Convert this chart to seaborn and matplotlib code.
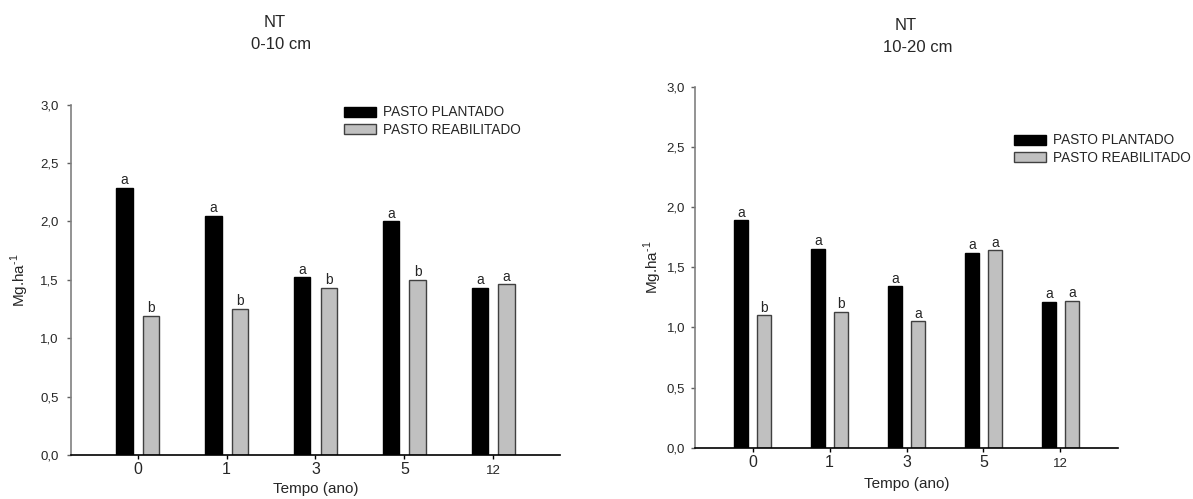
import matplotlib
matplotlib.use("Agg")
import matplotlib.pyplot as plt
import seaborn as sns
import pandas as pd

# Tempo desde a implantação (anos)
tempos = ["0", "1", "3", "5", "12"]
series = ["PASTO PLANTADO", "PASTO REABILITADO"]

# NT, camada 0-10 cm (Mg.ha-1)
plantado_0_10 = [2.29, 2.05, 1.52, 2.00, 1.43]
reabilitado_0_10 = [1.19, 1.25, 1.43, 1.50, 1.46]
letras_plantado_0_10 = ["a", "a", "a", "a", "a"]
letras_reabilitado_0_10 = ["b", "b", "b", "b", "a"]

# NT, camada 10-20 cm (Mg.ha-1)
plantado_10_20 = [1.89, 1.65, 1.34, 1.62, 1.21]
reabilitado_10_20 = [1.10, 1.13, 1.05, 1.64, 1.22]
letras_plantado_10_20 = ["a", "a", "a", "a", "a"]
letras_reabilitado_10_20 = ["b", "b", "a", "a", "a"]

yticks = [0.0, 0.5, 1.0, 1.5, 2.0, 2.5, 3.0]
ytick_labels = ["0,0", "0,5", "1,0", "1,5", "2,0", "2,5", "3,0"]

sns.set_style("white")
plt.rcParams["font.family"] = ["Liberation Sans", "DejaVu Sans"]
plt.rcParams["mathtext.fontset"] = "custom"
plt.rcParams["mathtext.rm"] = "Liberation Sans"

palette = {series[0]: "#000000", series[1]: "#c0c0c0"}
edges = ["#000000", "#404040"]


def long_table(plantado, reabilitado):
    return pd.DataFrame({
        "tempo": tempos * 2,
        "valor": plantado + reabilitado,
        "pasto": [series[0]] * len(tempos) + [series[1]] * len(tempos),
    })


fig = plt.figure(figsize=(11.93, 4.99), dpi=100)
ax_l = fig.add_axes([0.0595, 0.0882, 0.4099, 0.7022])
ax_r = fig.add_axes([0.5826, 0.1028, 0.3546, 0.7235])

panels = [
    (ax_l, long_table(plantado_0_10, reabilitado_0_10),
     [letras_plantado_0_10, letras_reabilitado_0_10], 5.5,
     (344 / 1193, 1 - 105.5 / 499), -0.082, -0.077),
    (ax_r, long_table(plantado_10_20, reabilitado_10_20),
     [letras_plantado_10_20, letras_reabilitado_10_20], 4.0,
     (1014 / 1193, 1 - 133.5 / 499), -0.073, -0.080),
]

for ax, df, letras, ypad, leg_pos, ylab_x, xlab_y in panels:
    sns.barplot(data=df, x="tempo", y="valor", hue="pasto", order=tempos,
                hue_order=series, palette=palette, saturation=1,
                width=0.6, gap=0.38, errorbar=None, linewidth=1, ax=ax)
    for cont, ec, labs in zip(ax.containers, edges, letras):
        for bar in cont:
            bar.set_edgecolor(ec)
        ax.bar_label(cont, labels=labs, padding=0.5, fontsize=10)

    ax.set_xlim(-0.75, 4.75)
    ax.set_ylim(0, 3.0)
    ax.set_yticks(yticks)
    ax.set_yticklabels(ytick_labels)

    for side in ("top", "right"):
        ax.spines[side].set_visible(False)
    ax.spines["left"].set_color("#808080")
    ax.spines["bottom"].set_color("#000000")
    ax.spines["left"].set_linewidth(1.2)
    ax.spines["bottom"].set_linewidth(1.2)

    ax.tick_params(axis="y", direction="out", length=3.2, width=1,
                   color="#606060", labelsize=9.5, pad=ypad, left=True)
    ax.tick_params(axis="x", direction="out", length=2.9, width=1,
                   color="#000000", labelsize=11.5, pad=10.8, bottom=True)

    ax.set_xlabel("Tempo (ano)", fontsize=11)
    ax.set_ylabel(r"Mg.ha$^{\text{-1}}$", fontsize=11)
    ax.yaxis.set_label_coords(ylab_x, 0.5)
    ax.xaxis.set_label_coords(0.5, xlab_y)

    sns.move_legend(ax, "upper left", bbox_to_anchor=leg_pos,
                    bbox_transform=fig.transFigure, frameon=False, title=None,
                    fontsize=9.8, handlelength=2.35, handleheight=0.74,
                    handletextpad=0.5, labelspacing=0.25, borderpad=0,
                    borderaxespad=0)
    leg = ax.get_legend()
    for h, ec in zip(leg.legend_handles, edges):
        h.set_edgecolor(ec)
        h.set_linewidth(1)

    for lbl in ax.get_xticklabels():
        lbl.set_va("baseline")
        if lbl.get_text() == "12":
            lbl.set_fontsize(9.5)

# Títulos dos painéis
fig.text(275 / 1193, 1 - 22.7 / 499, "NT", ha="center", va="center", fontsize=12)
fig.text(281 / 1193, 1 - 44.5 / 499, "0-10 cm", ha="center", va="center", fontsize=12)
fig.text(906 / 1193, 1 - 25 / 499, "NT", ha="center", va="center", fontsize=12)
fig.text(918 / 1193, 1 - 47.8 / 499, "10-20 cm", ha="center", va="center", fontsize=12)

fig.savefig("out.png", dpi=100, facecolor="white")
